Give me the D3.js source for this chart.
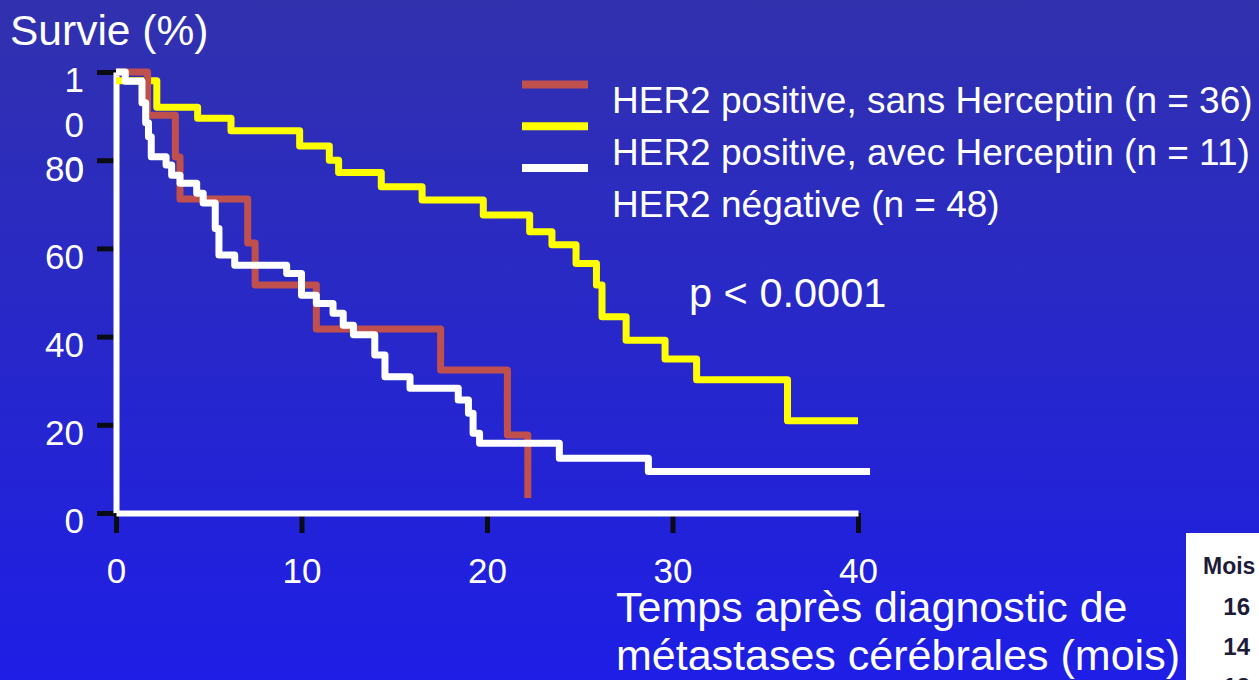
<!DOCTYPE html>
<html>
<head>
<meta charset="utf-8">
<script src="https://cdn.jsdelivr.net/npm/d3@7"></script>
<style>
  html, body { margin: 0; padding: 0; overflow: hidden; }
  svg { display: block; font-family: "Liberation Sans", Arial, sans-serif; }
</style>
</head>
<body>
<svg width="1259" height="680"></svg>
<script>
///////////////////////////////////////////////////////
// DATA
///////////////////////////////////////////////////////
// months after diagnosis / survival (%)
var redTimes = [0, 1.7, 3.2, 3.45, 7.1, 7.5, 10.8, 17.5, 21.1, 22.2];
var redSurv = [100, 90.2, 80.7, 71.2, 61.2, 51.7, 41.7, 32.4, 17.7, 3.4];

var yellowTimes = [0, 2.2, 4.4, 6.2, 9.9, 11.5, 12.0, 14.3, 16.5, 19.8, 22.3, 23.5,
  24.8, 25.9, 26.2, 27.5, 29.6, 31.3, 36.2, 40];
var yellowSurv = [98, 92, 89.5, 86.7, 83.2, 80.0, 77.2, 74.0, 71.0, 67.6, 63.8, 60.8,
  56.6, 51.7, 44.5, 39.2, 34.9, 30.2, 20.9, 20.9];

var whiteTimes = [0, 0.5, 1.4, 1.6, 1.75, 1.9, 2.7, 3.0, 3.45, 4.35, 4.7, 5.35, 5.55,
  6.4, 9.2, 10.0, 10.8, 11.7, 12.25, 12.8, 13.95, 14.5, 15.85, 18.45, 19.0, 19.25,
  19.6, 23.9, 28.7, 40.65];
var whiteSurv = [100, 97.9, 93.0, 88.5, 85.3, 80.8, 78.9, 76.6, 74.8, 72.5, 70.3, 64.5, 58.5,
  56.2, 54.3, 49.4, 47.5, 45.3, 42.6, 40.4, 35.8, 30.9, 28.3, 25.6, 22.6, 18.1,
  15.8, 12.4, 9.4, 9.4];

var seriesNames = [
  "HER2 positive, sans Herceptin (n = 36)",
  "HER2 positive, avec Herceptin (n = 11)",
  "HER2 négative (n = 48)"
];
var seriesColors = ["#C0504D", "#FFFF00", "#FFFFFF"];

var xTicks = [0, 10, 20, 30, 40];
var yTicks = [0, 20, 40, 60, 80, 100];

var tableHeader = "Mois";
var tableValues = [16, 14, 12];

///////////////////////////////////////////////////////
// SETUP
///////////////////////////////////////////////////////
var width = 1259;
var height = 680;
var font = "'Liberation Sans', Arial, sans-serif";

var xScale = d3.scaleLinear().domain([0, 40]).range([116, 858]);
var yScale = d3.scaleLinear().domain([0, 100]).range([513, 72]);

var svg = d3.select("svg");

// background gradient
var grad = svg.append("defs").append("linearGradient")
  .attr("id", "bg")
  .attr("x1", 0).attr("y1", 0).attr("x2", 0).attr("y2", 1);
grad.append("stop").attr("offset", "0%").attr("stop-color", "#3131AE");
grad.append("stop").attr("offset", "100%").attr("stop-color", "#1E1EE6");

svg.append("rect")
  .attr("width", width)
  .attr("height", height)
  .attr("fill", "url(#bg)");

///////////////////////////////////////////////////////
// AXES
///////////////////////////////////////////////////////
var yAxis = d3.axisLeft(yScale)
  .tickValues(yTicks)
  .tickSize(19)
  .tickSizeOuter(0)
  .tickPadding(13);

var yAxisGroup = svg.append("g")
  .attr("class", "axis y")
  .attr("transform", "translate(" + xScale(0) + ",0)")
  .call(yAxis);

var xAxis = d3.axisBottom(xScale)
  .tickValues(xTicks)
  .tickSize(20)
  .tickSizeOuter(0)
  .tickPadding(25);

var xAxisGroup = svg.append("g")
  .attr("class", "axis x")
  .attr("transform", "translate(0," + yScale(0) + ")")
  .call(xAxis);

[xAxisGroup, yAxisGroup].forEach(function(g) {
  g.selectAll(".tick line").attr("stroke", "#0b0b16").attr("stroke-width", 5);
  g.selectAll(".tick text")
    .attr("fill", "#fff")
    .style("font-family", font)
    .style("font-size", "35px");
  g.select(".domain").attr("stroke", "#fff").attr("stroke-width", 6).raise();
});

yAxisGroup.selectAll(".tick text").attr("dy", "0.57em");

// the 100 label wraps one digit per line in the original
yAxisGroup.selectAll(".tick text")
  .filter(function(d) { return d === 100; })
  .text(null)
  .selectAll("tspan")
  .data(["1", "0", "0"])
  .enter().append("tspan")
  .attr("x", -32)
  .attr("dy", function(d, i) { return i === 0 ? "0.57em" : 45; })
  .text(function(d) { return d; });

///////////////////////////////////////////////////////
// CURVES
///////////////////////////////////////////////////////
var line = d3.line()
  .x(function(d) { return xScale(d[0]); })
  .y(function(d) { return yScale(d[1]); })
  .curve(d3.curveStepAfter);

var curves = [
  { t: yellowTimes, s: yellowSurv, color: seriesColors[1] },
  { t: redTimes, s: redSurv, color: seriesColors[0] },
  { t: whiteTimes, s: whiteSurv, color: seriesColors[2] }
];

var chart = svg.append("g").attr("class", "chart");

chart.selectAll("path.km")
  .data(curves)
  .enter().append("path")
  .attr("class", "km")
  .attr("fill", "none")
  .attr("stroke", function(d) { return d.color; })
  .attr("stroke-width", 7)
  .attr("stroke-linejoin", "round")
  .attr("d", function(d) { return line(d3.zip(d.t, d.s)); });

///////////////////////////////////////////////////////
// TEXT, LEGEND
///////////////////////////////////////////////////////
svg.append("text")
  .attr("x", 10)
  .attr("y", 45)
  .attr("fill", "#fff")
  .style("font-size", "42.5px")
  .text("Survie (%)");

var legend = svg.append("g").attr("class", "legend");

legend.selectAll("line")
  .data(seriesColors)
  .enter().append("line")
  .attr("x1", 522)
  .attr("x2", 588)
  .attr("y1", function(d, i) { return 84.5 + i * 41.7; })
  .attr("y2", function(d, i) { return 84.5 + i * 41.7; })
  .attr("stroke", function(d) { return d; })
  .attr("stroke-width", 8);

legend.selectAll("text")
  .data(seriesNames)
  .enter().append("text")
  .attr("x", 612)
  .attr("y", function(d, i) { return 113 + i * 52; })
  .attr("fill", "#fff")
  .style("font-size", "37px")
  .text(function(d) { return d; });

svg.append("text")
  .attr("x", 689)
  .attr("y", 307)
  .attr("fill", "#fff")
  .style("font-size", "41.5px")
  .text("p < 0.0001");

svg.append("text")
  .attr("x", 616)
  .attr("y", 622)
  .attr("fill", "#fff")
  .style("font-size", "43px")
  .text("Temps après diagnostic de");

svg.append("text")
  .attr("x", 616)
  .attr("y", 670)
  .attr("fill", "#fff")
  .style("font-size", "43px")
  .text("métastases cérébrales (mois)");

// piece of a table peeking in at the bottom right corner
var table = svg.append("g").attr("class", "table");
table.append("rect")
  .attr("x", 1186).attr("y", 533)
  .attr("width", 80).attr("height", 160)
  .attr("fill", "#fff");
table.append("text")
  .attr("x", 1203).attr("y", 574)
  .attr("fill", "#1c1c3a")
  .style("font-size", "23px")
  .style("font-weight", "bold")
  .text(tableHeader);
table.selectAll("text.val")
  .data(tableValues)
  .enter().append("text")
  .attr("class", "val")
  .attr("x", 1250)
  .attr("y", function(d, i) { return 615 + i * 40; })
  .attr("text-anchor", "end")
  .attr("fill", "#1c1c3a")
  .style("font-size", "24px")
  .style("font-weight", "bold")
  .text(function(d) { return d; });
</script>
</body>
</html>
